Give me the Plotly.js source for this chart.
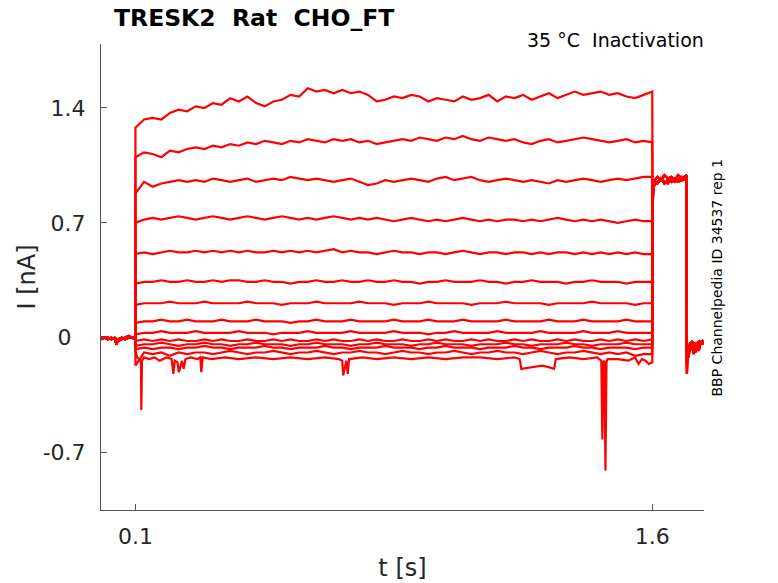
<!DOCTYPE html>
<html>
<head>
<meta charset="utf-8">
<script src="https://cdn.plot.ly/plotly-3.0.1.min.js"></script>
<style>html,body{margin:0;padding:0;background:#fff;}#chart{width:778px;height:583px;}</style>
</head>
<body>
<div id="chart"></div>
<script>
// ---- time bases (s) ----
var preT  = [0, 0.01, 0.02, 0.03, 0.04, 0.045, 0.05, 0.06, 0.07, 0.08, 0.09, 0.0995];
var stepT = [0.1,0.125,0.15,0.175,0.2,0.225,0.25,0.275,0.3,0.325,0.35,0.375,0.4,0.425,0.45,0.475,0.5,0.525,0.55,0.575,0.6,0.625,0.65,0.675,0.7,0.725,0.75,0.775,0.8,0.825,0.85,0.875,0.9,0.925,0.95,0.975,1.0,1.025,1.05,1.075,1.1,1.125,1.15,1.175,1.2,1.225,1.25,1.275,1.3,1.325,1.35,1.375,1.4,1.425,1.45,1.475,1.5,1.525,1.55,1.575,1.6];
var testT = [1.6005, 1.603, 1.607, 1.615, 1.625, 1.635, 1.645, 1.655, 1.665, 1.675, 1.685, 1.6995];
var postT = [1.7005, 1.702, 1.705, 1.71, 1.715, 1.72, 1.725, 1.73, 1.735, 1.74, 1.745, 1.75];

// ---- pre-pulse holding current (nA) ----
var preA = [0.0, 0.0, -0.01, 0.0, -0.01, -0.04, -0.01, 0.0, -0.01, 0.0, 0.0, 0.0];
var preB = [-0.01, 0.0, 0.0, -0.01, 0.0, -0.01, -0.02, -0.01, 0.0, 0.01, 0.0, -0.01];

// ---- test pulse current (nA) ----
var testA = [0.82, 0.92, 0.96, 0.98, 0.96, 0.99, 0.97, 0.98, 0.96, 0.99, 0.97, 0.99];
var testB = [0.86, 0.94, 0.93, 0.95, 0.97, 0.94, 0.96, 0.95, 0.97, 0.95, 0.96, 0.97];
var testC = [0.78, 0.90, 0.95, 0.94, 0.97, 0.95, 0.94, 0.97, 0.95, 0.96, 0.98, 0.96];

// ---- after test pulse (nA) ----
var postA = [-0.22, -0.08, -0.04, -0.06, -0.02, -0.05, -0.03, -0.06, -0.02, -0.04, -0.03, -0.03];
var postB = [-0.15, -0.10, -0.07, -0.03, -0.08, -0.04, -0.09, -0.03, -0.05, -0.02, -0.04, -0.02];
var postC = [-0.18, -0.06, -0.12, -0.05, -0.04, -0.10, -0.04, -0.05, -0.08, -0.03, -0.02, -0.04];

// ---- conditioning step currents (nA), on stepT ----
var step1 = [1.28,1.33,1.34,1.33,1.37,1.39,1.38,1.41,1.40,1.43,1.42,1.46,1.44,1.47,1.43,1.41,1.44,1.45,1.48,1.47,1.52,1.50,1.51,1.49,1.51,1.49,1.50,1.48,1.44,1.45,1.47,1.46,1.48,1.47,1.44,1.46,1.45,1.44,1.47,1.45,1.46,1.48,1.44,1.47,1.46,1.48,1.45,1.47,1.49,1.46,1.48,1.50,1.48,1.49,1.50,1.48,1.49,1.47,1.46,1.48,1.50];
var step2 = [1.10,1.13,1.12,1.10,1.14,1.13,1.15,1.16,1.15,1.17,1.16,1.18,1.17,1.19,1.18,1.20,1.19,1.18,1.20,1.19,1.21,1.20,1.19,1.21,1.20,1.21,1.19,1.20,1.18,1.19,1.20,1.21,1.20,1.22,1.21,1.20,1.22,1.21,1.23,1.21,1.20,1.22,1.21,1.20,1.21,1.19,1.18,1.20,1.21,1.19,1.20,1.21,1.22,1.21,1.20,1.19,1.20,1.21,1.19,1.20,1.19];
var step3 = [0.88,0.95,0.92,0.94,0.95,0.96,0.95,0.96,0.95,0.97,0.96,0.95,0.96,0.97,0.95,0.96,0.97,0.96,0.98,0.97,0.96,0.97,0.96,0.95,0.96,0.97,0.95,0.93,0.94,0.96,0.95,0.96,0.97,0.96,0.95,0.97,0.98,0.96,0.97,0.98,0.96,0.95,0.96,0.97,0.96,0.95,0.96,0.95,0.94,0.96,0.95,0.96,0.97,0.96,0.95,0.96,0.97,0.96,0.97,0.98,0.98];
var step4 = [0.70,0.72,0.73,0.72,0.73,0.74,0.73,0.72,0.73,0.74,0.73,0.72,0.73,0.74,0.73,0.72,0.73,0.74,0.73,0.72,0.73,0.72,0.73,0.74,0.73,0.72,0.73,0.72,0.73,0.72,0.71,0.72,0.73,0.72,0.71,0.72,0.71,0.72,0.73,0.72,0.71,0.72,0.71,0.72,0.72,0.71,0.72,0.71,0.72,0.73,0.72,0.71,0.72,0.71,0.72,0.71,0.70,0.71,0.72,0.71,0.71];
var step5 = [0.51,0.52,0.51,0.52,0.53,0.52,0.52,0.53,0.52,0.53,0.52,0.53,0.52,0.53,0.52,0.52,0.53,0.52,0.53,0.52,0.53,0.52,0.53,0.54,0.52,0.53,0.52,0.52,0.51,0.52,0.53,0.52,0.52,0.51,0.52,0.52,0.51,0.52,0.53,0.52,0.51,0.52,0.52,0.51,0.52,0.52,0.51,0.52,0.51,0.52,0.52,0.51,0.52,0.51,0.52,0.51,0.52,0.51,0.52,0.51,0.51];
var step6 = [0.33,0.34,0.34,0.35,0.34,0.34,0.35,0.34,0.34,0.35,0.34,0.35,0.35,0.34,0.34,0.35,0.34,0.34,0.33,0.34,0.34,0.35,0.34,0.34,0.35,0.34,0.34,0.35,0.34,0.34,0.35,0.34,0.34,0.33,0.34,0.34,0.35,0.34,0.34,0.34,0.35,0.34,0.34,0.33,0.34,0.34,0.35,0.34,0.34,0.34,0.33,0.34,0.34,0.35,0.34,0.34,0.34,0.33,0.34,0.34,0.34];
var step7 = [0.20,0.21,0.21,0.21,0.22,0.21,0.21,0.21,0.22,0.21,0.21,0.21,0.21,0.22,0.21,0.21,0.21,0.20,0.21,0.21,0.21,0.22,0.21,0.21,0.21,0.21,0.22,0.21,0.21,0.21,0.20,0.21,0.21,0.21,0.22,0.21,0.21,0.21,0.21,0.20,0.21,0.21,0.21,0.22,0.21,0.21,0.21,0.21,0.20,0.21,0.21,0.21,0.21,0.22,0.21,0.21,0.21,0.21,0.20,0.21,0.21];
var step8 = [0.09,0.10,0.10,0.11,0.10,0.10,0.11,0.10,0.10,0.10,0.11,0.10,0.10,0.10,0.11,0.10,0.10,0.10,0.09,0.10,0.10,0.11,0.10,0.10,0.10,0.11,0.10,0.10,0.10,0.10,0.11,0.10,0.10,0.10,0.11,0.10,0.10,0.10,0.11,0.10,0.10,0.10,0.10,0.11,0.10,0.10,0.10,0.10,0.11,0.10,0.10,0.10,0.11,0.10,0.10,0.10,0.10,0.11,0.10,0.10,0.10];
var step9 = [0.02,0.03,0.03,0.04,0.03,0.03,0.03,0.04,0.03,0.03,0.03,0.03,0.04,0.03,0.03,0.03,0.02,0.03,0.03,0.03,0.04,0.03,0.03,0.03,0.03,0.04,0.03,0.03,0.03,0.03,0.04,0.03,0.03,0.03,0.02,0.03,0.03,0.04,0.03,0.03,0.03,0.03,0.04,0.03,0.03,0.03,0.03,0.04,0.03,0.03,0.03,0.03,0.04,0.03,0.03,0.03,0.04,0.03,0.03,0.03,0.03];
var step10 = [-0.02,-0.01,-0.02,-0.01,-0.02,-0.01,-0.02,-0.02,-0.01,-0.02,-0.01,-0.02,-0.02,-0.01,-0.02,-0.02,-0.01,-0.02,-0.01,-0.02,-0.02,-0.01,-0.02,-0.01,-0.02,-0.02,-0.01,-0.02,-0.01,-0.02,-0.02,-0.01,-0.02,-0.02,-0.01,-0.02,-0.01,-0.02,-0.02,-0.01,-0.02,-0.01,-0.02,-0.02,-0.01,-0.02,-0.01,-0.02,-0.02,-0.01,-0.02,-0.01,-0.02,-0.02,-0.01,-0.02,-0.01,-0.02,-0.01,-0.02,-0.01];
var step11 = [-0.05,-0.04,-0.04,-0.03,-0.04,-0.05,-0.04,-0.04,-0.03,-0.04,-0.04,-0.05,-0.04,-0.04,-0.03,-0.04,-0.04,-0.04,-0.05,-0.04,-0.04,-0.03,-0.04,-0.04,-0.04,-0.05,-0.04,-0.04,-0.03,-0.04,-0.04,-0.04,-0.05,-0.04,-0.04,-0.03,-0.04,-0.04,-0.04,-0.05,-0.04,-0.04,-0.04,-0.03,-0.04,-0.04,-0.05,-0.04,-0.04,-0.04,-0.03,-0.04,-0.04,-0.05,-0.04,-0.04,-0.04,-0.03,-0.04,-0.04,-0.04];
var step12 = [-0.07,-0.06,-0.07,-0.06,-0.06,-0.07,-0.06,-0.06,-0.05,-0.06,-0.06,-0.07,-0.06,-0.06,-0.06,-0.05,-0.06,-0.06,-0.07,-0.06,-0.06,-0.06,-0.05,-0.06,-0.06,-0.07,-0.06,-0.06,-0.06,-0.05,-0.06,-0.06,-0.06,-0.07,-0.06,-0.06,-0.05,-0.06,-0.06,-0.06,-0.07,-0.06,-0.06,-0.06,-0.05,-0.06,-0.06,-0.07,-0.06,-0.06,-0.06,-0.05,-0.06,-0.06,-0.07,-0.06,-0.06,-0.06,-0.07,-0.06,-0.06];
var step13 = [-0.17,-0.09,-0.10,-0.09,-0.11,-0.09,-0.10,-0.09,-0.09,-0.10,-0.09,-0.08,-0.09,-0.10,-0.09,-0.09,-0.08,-0.09,-0.10,-0.09,-0.09,-0.08,-0.09,-0.10,-0.09,-0.09,-0.08,-0.09,-0.09,-0.10,-0.09,-0.08,-0.09,-0.09,-0.10,-0.09,-0.09,-0.08,-0.09,-0.10,-0.09,-0.09,-0.08,-0.09,-0.09,-0.10,-0.09,-0.08,-0.09,-0.10,-0.09,-0.09,-0.08,-0.09,-0.10,-0.09,-0.10,-0.09,-0.11,-0.10,-0.10];

// lowest sweep has its own sampling to keep its brief spikes
var step14T = [0.1,0.105,0.112,0.116,0.117,0.119,0.125,0.14,0.155,0.17,0.19,0.205,0.21,0.214,0.222,0.226,0.235,0.24,0.245,0.26,0.28,0.288,0.291,0.295,0.32,0.36,0.40,0.45,0.50,0.55,0.60,0.65,0.69,0.70,0.703,0.712,0.716,0.72,0.76,0.80,0.85,0.90,0.95,1.00,1.05,1.10,1.15,1.20,1.215,1.22,1.25,1.28,1.30,1.315,1.32,1.36,1.40,1.44,1.452,1.455,1.458,1.461,1.464,1.467,1.47,1.50,1.53,1.55,1.56,1.57,1.58,1.59,1.6];
var step14 = [-0.08,-0.12,-0.13,-0.15,-0.44,-0.14,-0.12,-0.13,-0.12,-0.14,-0.12,-0.13,-0.22,-0.14,-0.15,-0.21,-0.14,-0.19,-0.13,-0.12,-0.13,-0.12,-0.21,-0.12,-0.13,-0.12,-0.13,-0.12,-0.13,-0.12,-0.13,-0.12,-0.13,-0.14,-0.23,-0.14,-0.22,-0.13,-0.12,-0.13,-0.12,-0.13,-0.12,-0.13,-0.12,-0.12,-0.13,-0.12,-0.13,-0.19,-0.18,-0.17,-0.18,-0.19,-0.13,-0.12,-0.13,-0.12,-0.14,-0.62,-0.15,-0.14,-0.81,-0.15,-0.13,-0.13,-0.14,-0.12,-0.16,-0.13,-0.14,-0.16,-0.15];

// tick labels
var xTickVals = [0.1, 1.6];
var xTickText = ['0.1', '1.6'];
var yTickVals = [-0.7, 0, 0.7, 1.4];
var yTickText = ['-0.7', '0\u00a0\u00a0', '0.7', '1.4'];

var sweeps = [
  [preA, stepT, step1, testA, postA],
  [preB, stepT, step2, testB, postB],
  [preA, stepT, step3, testC, postC],
  [preB, stepT, step4, testA, postB],
  [preA, stepT, step5, testB, postA],
  [preB, stepT, step6, testC, postC],
  [preA, stepT, step7, testA, postA],
  [preB, stepT, step8, testB, postB],
  [preA, stepT, step9, testC, postC],
  [preB, stepT, step10, testA, postB],
  [preA, stepT, step11, testB, postA],
  [preB, stepT, step12, testC, postC],
  [preA, stepT, step13, testA, postA],
  [preB, step14T, step14, testB, postB]
];

var traces = sweeps.map(function (s) {
  return {
    type: 'scatter', mode: 'lines',
    x: preT.concat(s[1], testT, postT),
    y: s[0].concat(s[2], s[3], s[4]),
    line: {color: '#ff0000', width: 2.2},
    hoverinfo: 'skip', showlegend: false
  };
});

var axisColor = '#555555';
var font = 'DejaVu Sans, Verdana, sans-serif';

var layout = {
  width: 778, height: 583,
  margin: {l: 101, r: 74, t: 44, b: 73, pad: 0},
  paper_bgcolor: '#ffffff', plot_bgcolor: '#ffffff',
  font: {family: font, color: '#262626'},
  showlegend: false,
  title: {
    text: '<b>TRESK2\u00a0\u00a0Rat\u00a0\u00a0CHO_FT</b>',
    font: {family: font, size: 23.5, color: '#000000'},
    xref: 'container', x: 114 / 778, xanchor: 'left',
    yref: 'container', y: 1 - 18 / 583, yanchor: 'middle'
  },
  xaxis: {
    range: [0, 1.75], tickvals: xTickVals, ticktext: xTickText,
    ticks: 'inside', ticklen: 6, tickwidth: 1, tickcolor: axisColor,
    showline: true, linecolor: axisColor, linewidth: 1,
    showgrid: false, zeroline: false, automargin: false,
    ticklabelstandoff: 7,
    tickfont: {family: font, size: 22, color: '#262626'},
    title: {text: 't [s]', font: {family: font, size: 24, color: '#262626'}, standoff: 10}
  },
  yaxis: {
    range: [-1.05, 1.79], tickvals: yTickVals, ticktext: yTickText,
    ticks: 'inside', ticklen: 6, tickwidth: 1, tickcolor: axisColor,
    showline: true, linecolor: axisColor, linewidth: 1,
    showgrid: false, zeroline: false, automargin: false,
    ticklabelstandoff: 10,
    tickfont: {family: font, size: 22, color: '#262626'},
    title: {text: 'I [nA]', font: {family: font, size: 24, color: '#262626'}, standoff: 0}
  },
  annotations: [
    {text: '35 °C\u00a0\u00a0Inactivation', xref: 'paper', yref: 'paper',
     x: 1.003, xanchor: 'right', y: (510 - 40) / 466, yanchor: 'middle',
     showarrow: false, font: {family: font, size: 19, color: '#000000'}},
    {text: 'BBP Channelpedia ID 34537 rep 1', xref: 'paper', yref: 'paper',
     x: (716.5 - 101) / 603, xanchor: 'center', y: (510 - 278) / 466, yanchor: 'middle',
     textangle: -90, showarrow: false, font: {family: font, size: 14, color: '#000000'}}
  ]
};

Plotly.newPlot('chart', traces, layout, {staticPlot: true, displayModeBar: false});
</script>
</body>
</html>
